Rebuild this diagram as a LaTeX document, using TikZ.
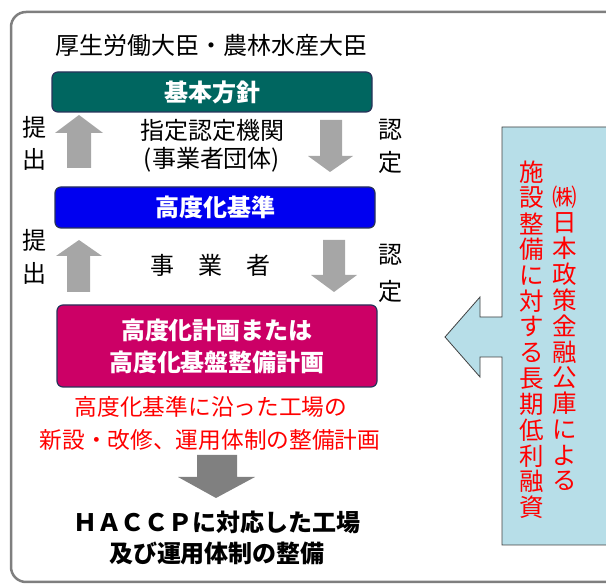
\documentclass[tikz,border=0pt]{standalone}
\usepackage{fontspec}
\setmainfont{Noto Sans CJK JP}
\definecolor{teal}{RGB}{0,102,96}
\definecolor{blu}{RGB}{0,0,240}
\definecolor{mag}{RGB}{204,0,102}
\definecolor{boxline}{RGB}{40,50,90}
\definecolor{arrgray}{RGB}{166,166,166}
\definecolor{bigarr}{RGB}{128,128,128}
\definecolor{callout}{RGB}{183,222,232}
\definecolor{frame}{RGB}{127,127,127}
\begin{document}
\begin{tikzpicture}[x=1pt,y=-1pt,
  box/.style={draw=boxline, line width=1.2pt, rounded corners=6pt, minimum width=320pt,
    inner sep=0pt, text=white, align=center, font=\fontsize{24}{32}\selectfont\bfseries},
  lbl/.style={inner sep=0pt, font=\fontsize{24}{30}\selectfont},
  redtxt/.style={inner sep=0pt, text=red, font=\fontsize{22.7}{33}\selectfont},
  goal/.style={inner sep=0pt, align=center, font=\fontsize{24}{31}\selectfont\bfseries},
  vtxt/.style={inner sep=0pt, text=red, font=\fontsize{24.5}{25}\selectfont}]
\useasboundingbox (0,0) rectangle (606,585);
\clip (0,0) rectangle (606,585);
% Frame
\draw[frame, line width=2.5pt, rounded corners=15pt] (11,582) -- (11,12) -- (640,12) -- (640,582) -- cycle;
%TOP
\node[lbl] (minister) at (212,45) {厚生労働大臣・農林水産大臣};
\node[box, fill=teal, minimum height=40pt] (policy) at (212,92) {基本方針};
\node[lbl] (body1) at (212,130) {指定認定機関};
\node[lbl] (body2) at (212,160) {(事業者団体)};
\node[lbl] (sub1a) at (35,127) {提};
\node[lbl] (sub1b) at (35,159) {出};
\node[lbl] (cert1a) at (390,130) {認};
\node[lbl] (cert1b) at (390,162) {定};
\fill[arrgray] (79,115) -- (103,133) -- (91,133) -- (91,168) -- (67,168) -- (67,133) -- (55,133) -- cycle;
\fill[arrgray] (330,172) -- (353,156) -- (342,156) -- (342,120) -- (320,120) -- (320,156) -- (308,156) -- cycle;
%MID
\node[box, fill=blu, minimum height=41pt] (standard) at (215,207.5) {高度化基準};
\node[lbl] (firm) at (210,265) {事　業　者};
\node[lbl] (sub2a) at (35,240) {提};
\node[lbl] (sub2b) at (35,273) {出};
\node[lbl] (cert2a) at (390,255) {認};
\node[lbl] (cert2b) at (390,291) {定};
\fill[arrgray] (79,240) -- (102,256) -- (90,256) -- (90,292) -- (67,292) -- (67,256) -- (56,256) -- cycle;
\fill[arrgray] (334,292) -- (357,275) -- (345,275) -- (345,240) -- (323,240) -- (323,275) -- (311,275) -- cycle;
%BOT
\node[box, fill=mag, minimum height=82pt] (plan) at (217,346) {高度化計画または\\高度化基盤整備計画};
\node[redtxt] (note1) at (211,407) {高度化基準に沿った工場の};
\node[redtxt] (note2) at (210,440) {新設・改修、運用体制の整備計画};
\fill[bigarr] (216,498) -- (255,477) -- (237,477) -- (237,455) -- (197,455) -- (197,477) -- (178,477) -- cycle;
\node[goal] (haccp) at (217,537.5) {ＨＡＣＣＰに対応した工場\\及び運用体制の整備};
% Loan callout
\draw[fill=callout, draw=black!75, line width=0.8pt] (502,317) -- (480,317) -- (480,297) -- (445,337)
  -- (480,377) -- (480,357) -- (502,357) -- (502,545) -- (640,545) -- (640,127) -- (502,127) -- cycle;
\foreach \c [count=\i from 0] in {施,設,整,備,に,対,す,る,長,期,低,利,融,資}
  \node[vtxt] (loan\i) at (532,172+\i*25.8) {\c};
\foreach \c [count=\i from 0] in {㈱,日,本,政,策,金,融,公,庫,に,よ,る}
  \node[vtxt] (bank\i) at (565,197+\i*25.8) {\c};
\end{tikzpicture}
\end{document}
